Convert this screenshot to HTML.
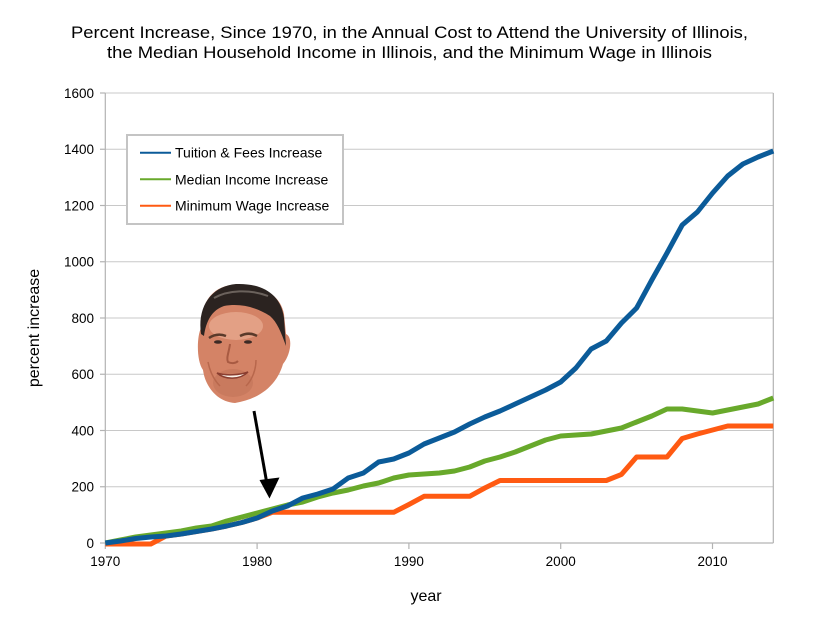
<!DOCTYPE html>
<html><head><meta charset="utf-8"><style>
html,body{margin:0;padding:0;background:#fff;}
svg{display:block;font-family:"Liberation Sans",Arial,sans-serif;}
</style></head><body>
<svg width="818" height="619" viewBox="0 0 818 619" xmlns="http://www.w3.org/2000/svg">
<rect width="818" height="619" fill="#fff"/>
<g font-size="17" fill="#000">
<text x="71" y="38" textLength="677" lengthAdjust="spacingAndGlyphs">Percent Increase, Since 1970, in the Annual Cost to Attend the University of Illinois,</text>
<text x="107" y="58" textLength="605" lengthAdjust="spacingAndGlyphs">the Median Household Income in Illinois, and the Minimum Wage in Illinois</text>
</g>
<g stroke="#c8c8c8" stroke-width="1">
<line x1="105.3" y1="93" x2="773.3" y2="93"/>
<line x1="105.3" y1="149.25" x2="773.3" y2="149.25"/>
<line x1="105.3" y1="205.5" x2="773.3" y2="205.5"/>
<line x1="105.3" y1="261.75" x2="773.3" y2="261.75"/>
<line x1="105.3" y1="318" x2="773.3" y2="318"/>
<line x1="105.3" y1="374.25" x2="773.3" y2="374.25"/>
<line x1="105.3" y1="430.5" x2="773.3" y2="430.5"/>
<line x1="105.3" y1="486.75" x2="773.3" y2="486.75"/>
</g>
<g stroke="#b3b3b3" stroke-width="1.2">
<line x1="105.3" y1="93" x2="105.3" y2="543"/>
<line x1="773.3" y1="93" x2="773.3" y2="543"/>
<line x1="100" y1="543" x2="773.3" y2="543"/>
<line x1="100" y1="93" x2="105.3" y2="93"/>
<line x1="100" y1="149.25" x2="105.3" y2="149.25"/>
<line x1="100" y1="205.5" x2="105.3" y2="205.5"/>
<line x1="100" y1="261.75" x2="105.3" y2="261.75"/>
<line x1="100" y1="318" x2="105.3" y2="318"/>
<line x1="100" y1="374.25" x2="105.3" y2="374.25"/>
<line x1="100" y1="430.5" x2="105.3" y2="430.5"/>
<line x1="100" y1="486.75" x2="105.3" y2="486.75"/>
<line x1="105.3" y1="543" x2="105.3" y2="549"/>
<line x1="257.1" y1="543" x2="257.1" y2="549"/>
<line x1="408.9" y1="543" x2="408.9" y2="549"/>
<line x1="560.7" y1="543" x2="560.7" y2="549"/>
<line x1="712.5" y1="543" x2="712.5" y2="549"/>
</g>
<g font-size="13.5" fill="#000" text-anchor="end">
<text x="94" y="97.8">1600</text>
<text x="94" y="154">1400</text>
<text x="94" y="210.3">1200</text>
<text x="94" y="266.5">1000</text>
<text x="94" y="322.8">800</text>
<text x="94" y="379">600</text>
<text x="94" y="435.3">400</text>
<text x="94" y="491.5">200</text>
<text x="94" y="547.8">0</text>
</g>
<g font-size="13.5" fill="#000" text-anchor="middle">
<text x="105.3" y="566">1970</text>
<text x="257.1" y="566">1980</text>
<text x="408.9" y="566">1990</text>
<text x="560.7" y="566">2000</text>
<text x="712.5" y="566">2010</text>
</g>
<text x="426" y="601" font-size="16" text-anchor="middle">year</text>
<text transform="translate(39,328) rotate(-90)" font-size="16" text-anchor="middle">percent increase</text>

<g fill="none" stroke-width="5" stroke-linejoin="round" stroke-linecap="butt">
<polyline stroke="#ff5a12" points="105.3,544 120.5,544 135.7,544 150.8,544 166,536 181.2,534 196.4,531.5 211.6,529 226.7,526 241.9,522.5 257.1,518 272.3,512.3 287.5,512.3 302.7,512.3 317.8,512.3 333,512.3 348.2,512.3 363.4,512.3 378.6,512.3 393.7,512.3 408.9,504.5 424.1,496.3 439.3,496.3 454.5,496.3 469.7,496.3 484.8,488 500,480.5 515.2,480.5 530.4,480.5 545.6,480.5 560.7,480.5 575.9,480.5 591.1,480.5 606.3,480.5 621.5,474.4 636.6,457 651.8,457 667,457 682.2,438.5 697.4,434 712.6,430 727.7,426 742.9,426 758.1,426 773.3,426"/>
<polyline stroke="#68a92b" points="105.3,543 120.5,540 135.7,537 150.8,535 166,533 181.2,531 196.4,528 211.6,526 226.7,521 241.9,517 257.1,513 272.3,509 287.5,505 302.7,502 317.8,497 333,493 348.2,490 363.4,486 378.6,483 393.7,478 408.9,475 424.1,474 439.3,473 454.5,471 469.7,467 484.8,461 500,457 515.2,452 530.4,446 545.6,440 560.7,436 575.9,435 591.1,434 606.3,431 621.5,428 636.6,422 651.8,416 667,409 682.2,409 697.4,411 712.6,413 727.7,410 742.9,407 758.1,404 773.3,398"/>
<polyline stroke="#0b5b99" points="105.3,543 120.5,541 135.7,538.5 150.8,537 166,536 181.2,534 196.4,531.5 211.6,529 226.7,526 241.9,522.5 257.1,518 272.3,511 287.5,506 302.7,498 317.8,494 333,489 348.2,478 363.4,473 378.6,462 393.7,459 408.9,453 424.1,444 439.3,438 454.5,432 469.7,424 484.8,417 500,411 515.2,404 530.4,397 545.6,390 560.7,382 575.9,368 591.1,349 606.3,341 621.5,323 636.6,308 651.8,280 667,253 682.2,225 697.4,212 712.6,193 727.7,176 742.9,164 758.1,157 773.3,151"/>
</g>

<rect x="127" y="135" width="216" height="89" fill="#fff" stroke="#c4c4c4" stroke-width="2"/>
<g stroke-width="2">
<line x1="140" y1="152.7" x2="171" y2="152.7" stroke="#0b5b99"/>
<line x1="140" y1="179.3" x2="171" y2="179.3" stroke="#68a92b"/>
<line x1="140" y1="205.7" x2="171" y2="205.7" stroke="#ff5a12"/>
</g>
<g font-size="14" fill="#000">
<text x="175" y="157.7">Tuition &amp; Fees Increase</text>
<text x="175" y="184.3">Median Income Increase</text>
<text x="175" y="210.7">Minimum Wage Increase</text>
</g>

<!-- arrow -->
<line x1="254" y1="411" x2="267" y2="484" stroke="#000" stroke-width="3"/>
<polygon points="259.5,480 279.5,477.5 269.5,498.5" fill="#000"/>

<!-- face -->
<g>
<path d="M232,285 C256,283 280,292 284,314 L286,334 C293,337 291,354 283,364 C277,385 260,399 235,403 C217,402 205,386 203,370 C196,360 197,336 201,328 C200,305 211,287 232,285 Z" fill="#d48366"/>
<ellipse cx="236" cy="326" rx="27" ry="14" fill="#e3a085"/>
<ellipse cx="233" cy="383" rx="20" ry="14" fill="#c97a5e"/>
<path d="M201,334 C197,306 212,286 236,284 C262,283 281,294 284,318 L286,346 C281,332 277,322 270,316 C256,307 240,303 224,306 C212,310 206,321 204,336 Z" fill="#2b2320"/>
<path d="M214,298 C228,290 250,289 268,296" stroke="#6b625c" stroke-width="2" fill="none"/>
<path d="M209,338 C215,334 221,334 226,336" stroke="#5a3a2a" stroke-width="2.5" fill="none"/>
<path d="M240,336 C246,333 252,333 257,336" stroke="#5a3a2a" stroke-width="2.5" fill="none"/>
<ellipse cx="218" cy="342" rx="4" ry="1.8" fill="#3c2a25"/>
<ellipse cx="248" cy="342" rx="4" ry="1.8" fill="#3c2a25"/>
<path d="M230,344 C229,352 226,358 228,362 C232,364 236,363 238,361" stroke="#a85a42" stroke-width="2" fill="none"/>
<path d="M217,373 C225,380 240,380 248,372 C240,375 226,376 217,373 Z" fill="#fbf3ea" stroke="#8a3e30" stroke-width="1.5"/>
<path d="M208,362 C210,372 214,380 220,386" stroke="#b8674c" stroke-width="1.5" fill="none"/>
<path d="M256,360 C256,370 252,380 246,386" stroke="#b8674c" stroke-width="1.5" fill="none"/>
</g>
</svg>
</body></html>
